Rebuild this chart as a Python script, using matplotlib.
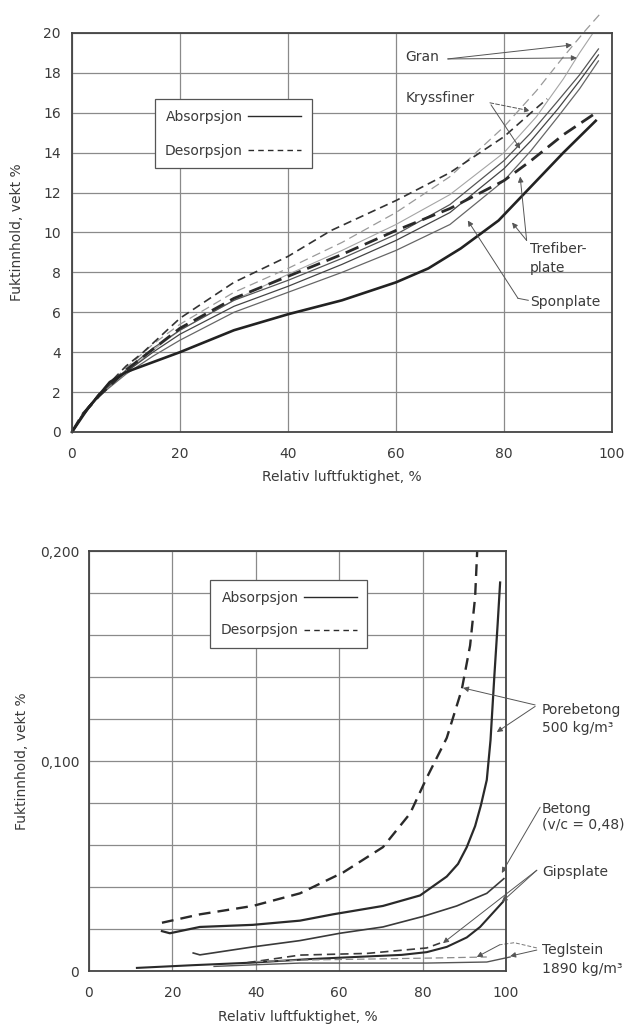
import matplotlib
matplotlib.use("Agg")
import matplotlib.pyplot as plt

# === Data: top chart (trebaserte materialer) ===
gran_des_rh = [0, 2, 5, 10, 15, 20, 30, 40, 50, 60, 70, 80, 86, 91, 95, 98.1]
gran_des = [0, 0.9, 1.9, 3.2, 4.4, 5.4, 7.0, 8.2, 9.5, 11.0, 12.8, 15.3, 17.1, 18.8, 20.1, 21.05]

gran_abs_rh = [0, 2, 5, 10, 15, 20, 30, 40, 50, 60, 70, 80, 86, 91, 94, 96.5]
gran_abs = [0, 0.8, 1.8, 3.0, 4.1, 5.1, 6.6, 7.9, 9.1, 10.4, 11.9, 14.0, 15.8, 17.7, 19.0, 20.0]

kryss_des_rh = [0, 2, 5, 10, 13, 20, 30, 40, 48, 60, 70, 80, 85, 88]
kryss_des = [0, 0.9, 1.9, 3.3, 3.95, 5.7, 7.5, 8.8, 10.1, 11.6, 13.0, 14.8, 16.0, 16.7]

trefiber_des_rh = [0, 2, 5, 10, 20, 30, 40, 50, 60, 70, 80, 85, 91, 96.5]
trefiber_des = [0, 0.9, 1.8, 3.1, 5.2, 6.7, 7.8, 8.9, 10.1, 11.2, 12.6, 13.6, 14.9, 15.9]

trefiber_abs_rh = [0, 3, 7, 10, 15, 20, 30, 40, 50, 60, 66, 72, 79, 85, 91, 97]
trefiber_abs = [0, 1.2, 2.5, 3.0, 3.5, 4.0, 5.1, 5.9, 6.6, 7.5, 8.2, 9.2, 10.6, 12.3, 14.0, 15.6]

bundle_rh = [0, 2, 5, 10, 15, 20, 30, 40, 50, 60, 70, 80, 85, 90, 94, 97.5]
kryss_abs = [0, 0.9, 1.9, 3.1, 4.2, 5.1, 6.6, 7.6, 8.7, 9.9, 11.4, 13.6, 15.0, 16.6, 17.9, 19.2]
spon_abs_a = [0, 0.9, 1.9, 3.0, 4.0, 4.9, 6.3, 7.3, 8.4, 9.6, 11.0, 13.2, 14.6, 16.2, 17.6, 18.9]
spon_abs_b = [0, 0.8, 1.8, 2.9, 3.8, 4.6, 6.0, 7.0, 8.0, 9.1, 10.4, 12.6, 14.1, 15.8, 17.2, 18.6]

# === Data: bottom chart (uorganiske materialer) ===
pore_des_rh = [17.5, 26.6, 39.3, 50.6, 61, 70.5, 77, 81, 85.8, 89.4, 91.4, 92.6, 93.1]
pore_des = [0.023, 0.027, 0.031, 0.037, 0.047, 0.059, 0.075, 0.092, 0.111, 0.134, 0.155, 0.178, 0.200]

pore_abs_rh = [17.5, 19.4, 26.6, 39.3, 50.6, 58.5, 70.5, 79.4, 85.8, 88.5, 90.6, 92.6, 94.0, 95.4, 96.3, 97.2, 98.0, 98.6]
pore_abs = [0.019, 0.018, 0.021, 0.022, 0.024, 0.027, 0.031, 0.036, 0.045, 0.051, 0.059, 0.069, 0.079, 0.091, 0.110, 0.140, 0.165, 0.185]

betong_rh = [25.0, 26.6, 39.3, 50.6, 60.2, 70.5, 80.1, 88.2, 95.4, 99.5]
betong = [0.0086, 0.0077, 0.0115, 0.0145, 0.018, 0.021, 0.026, 0.031, 0.037, 0.044]

gips_abs_rh = [11.5, 25, 39, 53, 65, 75, 81, 85.8, 90.6, 93.8, 99.3]
gips_abs = [0.0015, 0.0028, 0.004, 0.0057, 0.0068, 0.0077, 0.009, 0.0115, 0.016, 0.021, 0.033]

gips_des_rh = [38, 50.6, 66.7, 81, 84.2]
gips_des = [0.004, 0.0076, 0.0084, 0.011, 0.0133]

tegl_abs_rh = [30, 40, 50.6, 81, 95.4, 101]
tegl_abs = [0.0022, 0.003, 0.0038, 0.0038, 0.0043, 0.0067]

tegl_des_rh = [40, 50.6, 82.5, 95.4]
tegl_des = [0.0045, 0.0052, 0.0062, 0.0067]

top_xticks = [0, 20, 40, 60, 80, 100]
top_yticks = [0, 2, 4, 6, 8, 10, 12, 14, 16, 18, 20]
bot_xticks = [0, 20, 40, 60, 80, 100]
bot_ylabels = ["0", "", "", "", "", "0,100", "", "", "", "", "0,200"]

plt.rcParams["font.family"] = ["DejaVu Sans"]
TXT = "#3a3a3a"
DARK = "#2a2a2a"
GRID = "#8a8a8a"

fig = plt.figure(figsize=(6.42, 10.28), dpi=100)
ax1 = fig.add_axes([0.1121, 0.5798, 0.8411, 0.3881])
ax2 = fig.add_axes([0.1386, 0.0554, 0.6495, 0.4086])


def style_axes(ax):
    ax.grid(True, color=GRID, lw=0.9)
    ax.set_axisbelow(True)
    for s in ax.spines.values():
        s.set_color("#444444")
        s.set_linewidth(1.3)
    ax.tick_params(length=0, labelsize=10, labelcolor=TXT)


def add_legend(ax, anchor, spacing):
    h_abs, = ax.plot([], [], color=DARK, lw=1.0)
    h_des, = ax.plot([], [], color=DARK, lw=1.0, ls=(0, (4, 3)))
    leg = ax.legend([h_abs, h_des], ["Absorpsjon", "Desorpsjon"], markerfirst=False,
                    loc="upper left", bbox_to_anchor=anchor, fancybox=False,
                    edgecolor="#555555", framealpha=1, fontsize=10, handlelength=3.8,
                    handletextpad=0.4, labelspacing=spacing, borderpad=0.75)
    leg.get_frame().set_linewidth(0.9)
    for t in leg.get_texts():
        t.set_color(TXT)


arrow = dict(arrowstyle="-|>", color="#555555", lw=0.7, mutation_scale=8, shrinkA=0, shrinkB=0)
arrow_d = dict(arrow, ls=(0, (4, 2)))

# --- top chart ---
style_axes(ax1)
ax1.set_xlim(0, 100)
ax1.set_ylim(0, 20)
ax1.set_xticks(top_xticks)
ax1.set_yticks(top_yticks)
ax1.tick_params(axis="x", pad=11)
ax1.tick_params(axis="y", pad=8)
ax1.set_xlabel("Relativ luftfuktighet, %", fontsize=10, color=TXT, labelpad=6)
ax1.set_ylabel("Fuktinnhold, vekt %", fontsize=10, color=TXT, labelpad=14)

ax1.plot(gran_des_rh, gran_des, color="#9a9a9a", lw=0.9, ls=(0, (7, 4)), clip_on=False)
ax1.plot(gran_abs_rh, gran_abs, color="#a5a5a5", lw=0.8, clip_on=False)
ax1.plot(kryss_des_rh, kryss_des, color="#333333", lw=1.2, ls=(0, (5, 3)), clip_on=False)
ax1.plot(bundle_rh, kryss_abs, color="#555555", lw=0.9, clip_on=False)
ax1.plot(bundle_rh, spon_abs_a, color="#444444", lw=0.9, clip_on=False)
ax1.plot(bundle_rh, spon_abs_b, color="#666666", lw=0.9, clip_on=False)
ax1.plot(trefiber_des_rh, trefiber_des, color="#2a2a2a", lw=2.0, ls=(0, (5, 2.5)), clip_on=False)
ax1.plot(trefiber_abs_rh, trefiber_abs, color="#222222", lw=1.9, clip_on=False)

add_legend(ax1, (0.140, 0.851), 1.45)

ax1.text(61.7, 18.8, "Gran", fontsize=10, color=TXT, va="center")
ax1.annotate("", xy=(92.6, 19.4), xytext=(69.6, 18.7), arrowprops=arrow)
ax1.annotate("", xy=(93.5, 18.75), xytext=(69.6, 18.7), arrowprops=arrow)

ax1.text(61.7, 16.74, "Kryssfiner", fontsize=10, color=TXT, va="center")
ax1.annotate("", xy=(84.8, 16.1), xytext=(77.4, 16.5), arrowprops=arrow_d)
ax1.annotate("", xy=(83.0, 14.2), xytext=(77.6, 16.4), arrowprops=arrow)

ax1.text(84.8, 8.7, "Trefiber-\nplate", fontsize=10, color=TXT, va="center", linespacing=1.45)
ax1.annotate("", xy=(83.0, 12.8), xytext=(84.2, 9.6), arrowprops=arrow)
ax1.annotate("", xy=(81.5, 10.5), xytext=(84.2, 9.6), arrowprops=arrow)

ax1.text(84.8, 6.5, "Sponplate", fontsize=10, color=TXT, va="center")
ax1.plot([84.5, 82.6], [6.6, 6.7], color="#555555", lw=0.7)
ax1.annotate("", xy=(73.3, 10.6), xytext=(82.6, 6.7), arrowprops=arrow)

# --- bottom chart ---
style_axes(ax2)
ax2.set_xlim(0, 100)
ax2.set_ylim(0, 0.2)
ax2.set_xticks(bot_xticks)
ax2.set_yticks([i * 0.02 for i in range(11)])
ax2.set_yticklabels(bot_ylabels)
ax2.tick_params(axis="x", pad=11)
ax2.tick_params(axis="y", pad=7)
ax2.set_xlabel("Relativ luftfuktighet, %", fontsize=10, color=TXT, labelpad=7)
ax2.set_ylabel("Fuktinnhold, vekt %", fontsize=10, color=TXT, labelpad=8)

ax2.plot(pore_des_rh, pore_des, color="#2a2a2a", lw=1.7, ls=(0, (5, 3)), clip_on=False)
ax2.plot(pore_abs_rh, pore_abs, color="#2a2a2a", lw=1.6, clip_on=False)
ax2.plot(betong_rh, betong, color="#3a3a3a", lw=1.2, clip_on=False)
ax2.plot(gips_abs_rh, gips_abs, color="#2a2a2a", lw=1.5, clip_on=False)
ax2.plot(gips_des_rh, gips_des, color="#3a3a3a", lw=1.2, ls=(0, (5, 3)), clip_on=False)
ax2.plot(tegl_abs_rh, tegl_abs, color="#555555", lw=1.0, clip_on=False)
ax2.plot(tegl_des_rh, tegl_des, color="#8a8a8a", lw=0.9, ls=(0, (6, 3)), clip_on=False)

add_legend(ax2, (0.274, 0.947), 1.35)

ax2.text(108.6, 0.120, "Porebetong\n500 kg/m\u00b3", fontsize=10, color=TXT, va="center",
         linespacing=1.35, clip_on=False)
ax2.annotate("", xy=(89.7, 0.1348), xytext=(107.0, 0.1267), arrowprops=arrow, annotation_clip=False)
ax2.annotate("", xy=(97.8, 0.1138), xytext=(107.0, 0.1260), arrowprops=arrow, annotation_clip=False)

ax2.text(108.6, 0.0733, "Betong\n(v/c = 0,48)", fontsize=10, color=TXT, va="center",
         linespacing=1.15, clip_on=False)
ax2.annotate("", xy=(99.0, 0.0467), xytext=(108.2, 0.078), arrowprops=arrow, annotation_clip=False)

ax2.text(108.6, 0.0471, "Gipsplate", fontsize=10, color=TXT, va="center", clip_on=False)
ax2.annotate("", xy=(84.9, 0.0133), xytext=(107.4, 0.048), arrowprops=arrow, annotation_clip=False)
ax2.annotate("", xy=(99.0, 0.0329), xytext=(107.4, 0.048), arrowprops=arrow, annotation_clip=False)

ax2.text(108.6, 0.0057, "Teglstein\n1890 kg/m\u00b3", fontsize=10, color=TXT, va="center",
         linespacing=1.45, clip_on=False)
ax2.plot([107.4, 102.0, 98.5], [0.011, 0.0135, 0.0125], color="#777777", lw=0.7,
         ls=(0, (4, 2)), clip_on=False)
ax2.annotate("", xy=(93.0, 0.0067), xytext=(98.5, 0.0125), arrowprops=arrow, annotation_clip=False)
ax2.annotate("", xy=(101.0, 0.0071), xytext=(107.4, 0.010), arrowprops=arrow, annotation_clip=False)

fig.savefig("out.png", dpi=100)
